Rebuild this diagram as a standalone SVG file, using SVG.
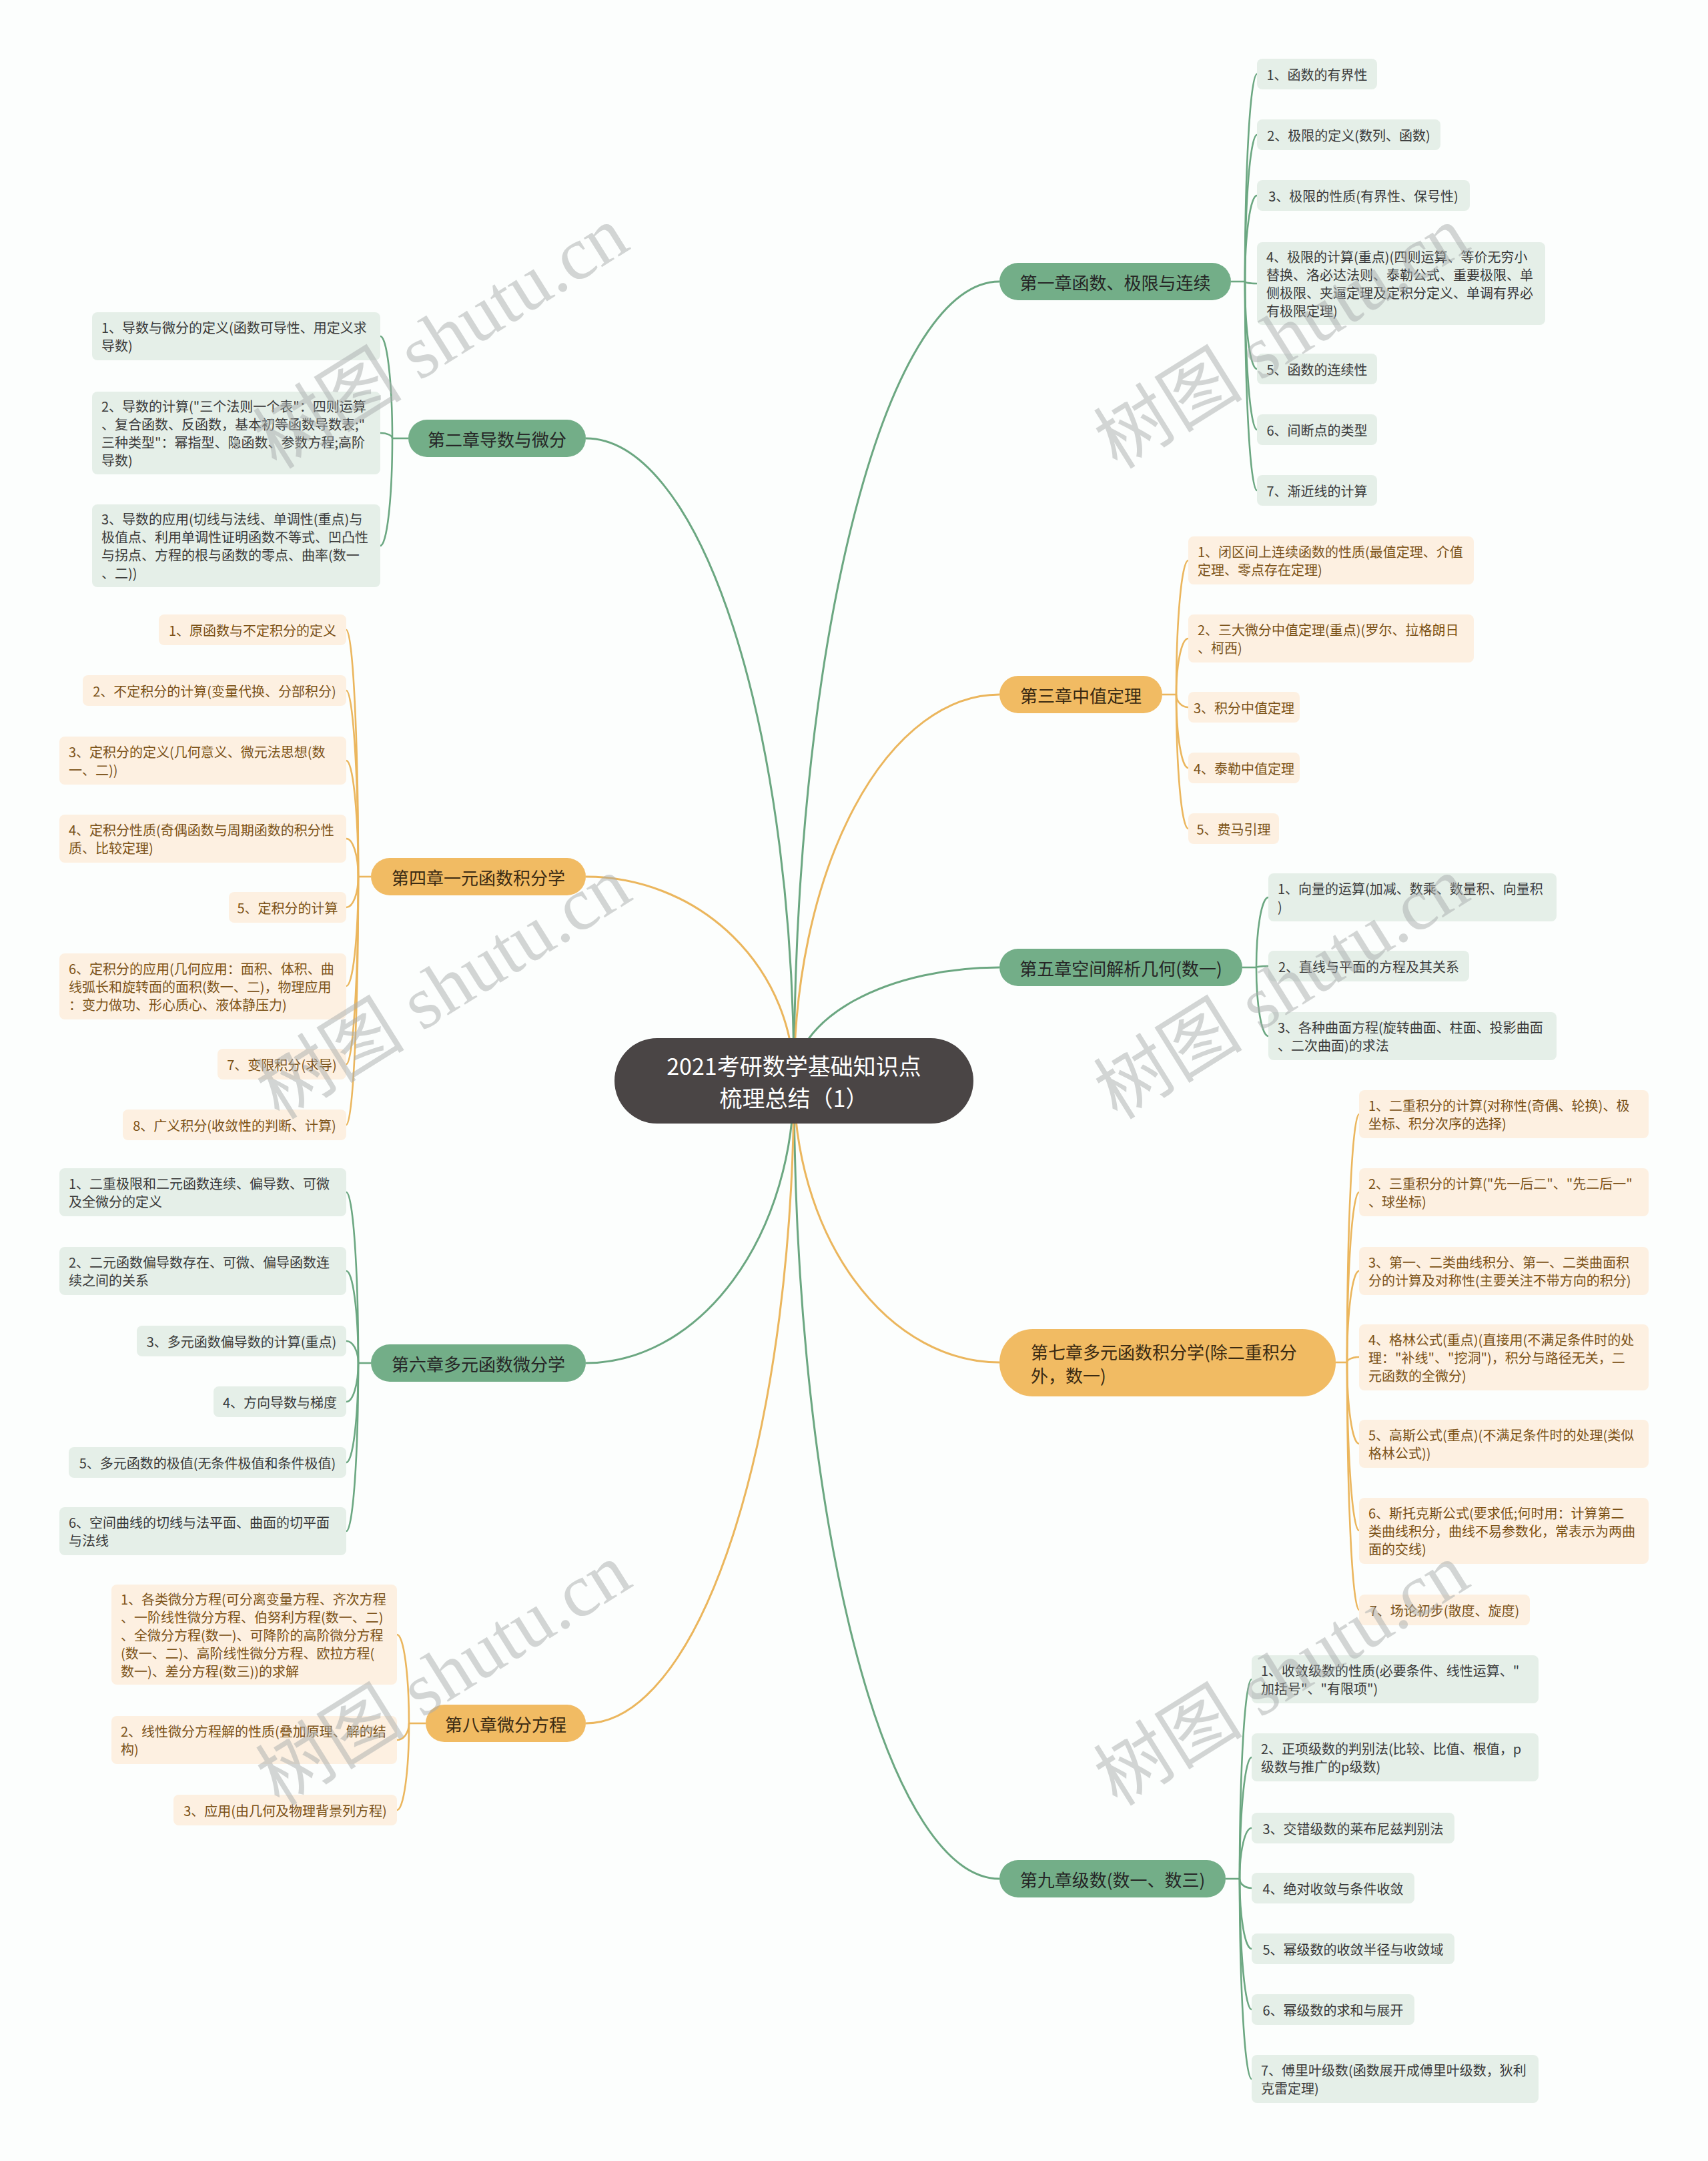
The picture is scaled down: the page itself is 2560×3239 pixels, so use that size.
<svg xmlns="http://www.w3.org/2000/svg" width="2560" height="3239" viewBox="0 0 2560 3239">
<style>
.bg{fill:#fcfefd}
.lg{fill:#e5efe8}
.lo{fill:#fdf0e1}
.cg{fill:#73ae88}
.co{fill:#f1bb63}
text{font-family:"Noto Sans CJK SC","Liberation Sans",sans-serif;dominant-baseline:central}
.t{font-size:20px}
.tg{fill:#3a3a3a}
.to{fill:#7b5217}
.m{text-anchor:middle}
.tc{font-size:26px;fill:#262626}
.tco{font-size:26px;fill:#3a2a12}
.root{font-size:34px;fill:#ffffff;text-anchor:middle}
.eg{fill:none;stroke:#6ba781;stroke-width:2.6}
.eo{fill:none;stroke:#ebb65d;stroke-width:2.6}
.mg{fill:none;stroke:#6ba781;stroke-width:3}
.mo{fill:none;stroke:#ebb65d;stroke-width:3}
.wm{font-family:"Liberation Serif","Noto Sans CJK SC",serif;font-size:112px;fill:#a9adad;opacity:0.5;text-anchor:middle}
</style>
<rect class="bg" x="0" y="0" width="2560" height="3239"/>
<g id="connectors">
<path class="mg" d="M1190,1620 A308,1198 0 0 1 1498,422"/>
<path class="mo" d="M1190,1620 A308,579 0 0 1 1498,1041"/>
<path class="mg" d="M1190,1620 A308,170 0 0 1 1498,1450"/>
<path class="mo" d="M1190,1620 A308,422 0 0 0 1498,2042"/>
<path class="mg" d="M1190,1620 A308,1196 0 0 0 1498,2816"/>
<path class="mg" d="M1190,1620 A312,963 0 0 0 878,657"/>
<path class="mo" d="M1190,1620 A312,306 0 0 0 878,1314"/>
<path class="mg" d="M1190,1620 A312,423 0 0 1 878,2043"/>
<path class="mo" d="M1190,1620 A312,963 0 0 1 878,2583"/>
<path class="eg" d="M1845,422 L1866,422"/>
<path class="eg" d="M1866,422 A18,311 0 0 1 1884,111"/>
<path class="eg" d="M1866,422 A18,220 0 0 1 1884,202"/>
<path class="eg" d="M1866,422 A18,129 0 0 1 1884,293"/>
<path class="eg" d="M1866,422 A18,3 0 0 0 1884,425"/>
<path class="eg" d="M1866,422 A18,131 0 0 0 1884,553"/>
<path class="eg" d="M1866,422 A18,222 0 0 0 1884,644"/>
<path class="eg" d="M1866,422 A18,313 0 0 0 1884,735"/>
<path class="eo" d="M1742,1041 L1763,1041"/>
<path class="eo" d="M1763,1041 A18,201 0 0 1 1781,840"/>
<path class="eo" d="M1763,1041 A18,84 0 0 1 1781,957"/>
<path class="eo" d="M1763,1041 A18,19 0 0 0 1781,1060"/>
<path class="eo" d="M1763,1041 A18,110 0 0 0 1781,1151"/>
<path class="eo" d="M1763,1041 A18,201 0 0 0 1781,1242"/>
<path class="eg" d="M1862,1450 L1883,1450"/>
<path class="eg" d="M1883,1450 A18,105 0 0 1 1901,1345"/>
<path class="eg" d="M1883,1450 A18,2 0 0 1 1901,1448"/>
<path class="eg" d="M1883,1450 A18,103 0 0 0 1901,1553"/>
<path class="eo" d="M2002,2042 L2019,2042"/>
<path class="eo" d="M2019,2042 A18,372 0 0 1 2037,1670"/>
<path class="eo" d="M2019,2042 A18,255 0 0 1 2037,1787"/>
<path class="eo" d="M2019,2042 A18,137 0 0 1 2037,1905"/>
<path class="eo" d="M2019,2042 A18,8 0 0 1 2037,2034"/>
<path class="eo" d="M2019,2042 A18,122 0 0 0 2037,2164"/>
<path class="eo" d="M2019,2042 A18,252 0 0 0 2037,2294"/>
<path class="eo" d="M2019,2042 A18,371 0 0 0 2037,2413"/>
<path class="eg" d="M1837,2816 L1858,2816"/>
<path class="eg" d="M1858,2816 A18,299 0 0 1 1876,2517"/>
<path class="eg" d="M1858,2816 A18,182 0 0 1 1876,2634"/>
<path class="eg" d="M1858,2816 A18,76 0 0 1 1876,2740"/>
<path class="eg" d="M1858,2816 A18,14 0 0 0 1876,2830"/>
<path class="eg" d="M1858,2816 A18,105 0 0 0 1876,2921"/>
<path class="eg" d="M1858,2816 A18,196 0 0 0 1876,3012"/>
<path class="eg" d="M1858,2816 A18,300 0 0 0 1876,3116"/>
<path class="eg" d="M612,657 L588,657"/>
<path class="eg" d="M588,657 A18,153 0 0 0 570,504"/>
<path class="eg" d="M588,657 A18,8 0 0 0 570,649"/>
<path class="eg" d="M588,657 A18,161 0 0 1 570,818"/>
<path class="eo" d="M556,1314 L537,1314"/>
<path class="eo" d="M537,1314 A18,370 0 0 0 519,944"/>
<path class="eo" d="M537,1314 A18,279 0 0 0 519,1035"/>
<path class="eo" d="M537,1314 A18,174 0 0 0 519,1140"/>
<path class="eo" d="M537,1314 A18,57 0 0 0 519,1257"/>
<path class="eo" d="M537,1314 A18,46 0 0 1 519,1360"/>
<path class="eo" d="M537,1314 A18,164 0 0 1 519,1478"/>
<path class="eo" d="M537,1314 A18,281 0 0 1 519,1595"/>
<path class="eo" d="M537,1314 A18,372 0 0 1 519,1686"/>
<path class="eg" d="M556,2043 L537,2043"/>
<path class="eg" d="M537,2043 A18,256 0 0 0 519,1787"/>
<path class="eg" d="M537,2043 A18,138 0 0 0 519,1905"/>
<path class="eg" d="M537,2043 A18,33 0 0 0 519,2010"/>
<path class="eg" d="M537,2043 A18,58 0 0 1 519,2101"/>
<path class="eg" d="M537,2043 A18,149 0 0 1 519,2192"/>
<path class="eg" d="M537,2043 A18,252 0 0 1 519,2295"/>
<path class="eo" d="M638,2583 L613,2583"/>
<path class="eo" d="M613,2583 A18,133 0 0 0 595,2450"/>
<path class="eo" d="M613,2583 A18,25 0 0 1 595,2608"/>
<path class="eo" d="M613,2583 A18,130 0 0 1 595,2713"/>
</g>
<g id="root">
<rect x="921" y="1556" width="538" height="128" rx="64" fill="#4a4545"/>
<text class="root" x="1190" y="1596">2021考研数学基础知识点</text>
<text class="root" x="1190" y="1644">梳理总结（1）</text>
</g>
<g id="ch1">
<rect class="cg" x="1498" y="394" width="347" height="56" rx="28"/>
<text class="tc m" x="1671.5" y="422">第一章函数、极限与连续</text>
</g>
<g id="ch1-1"><rect class="lg" x="1884" y="88" width="180" height="46" rx="8"/><text class="t tg m" x="1974" y="111">1、函数的有界性</text></g>
<g id="ch1-2"><rect class="lg" x="1884" y="179" width="275" height="46" rx="8"/><text class="t tg m" x="2021.5" y="202">2、极限的定义(数列、函数)</text></g>
<g id="ch1-3"><rect class="lg" x="1884" y="270" width="319" height="46" rx="8"/><text class="t tg m" x="2043.5" y="293">3、极限的性质(有界性、保号性)</text></g>
<g id="ch1-4"><rect class="lg" x="1884" y="363" width="432" height="124" rx="8"/>
<text class="t tg" x="1898" y="384.5">4、极限的计算(重点)(四则运算、等价无穷小</text>
<text class="t tg" x="1898" y="411.5">替换、洛必达法则、泰勒公式、重要极限、单</text>
<text class="t tg" x="1898" y="438.5">侧极限、夹逼定理及定积分定义、单调有界必</text>
<text class="t tg" x="1898" y="465.5">有极限定理)</text></g>
<g id="ch1-5"><rect class="lg" x="1884" y="530" width="180" height="46" rx="8"/><text class="t tg m" x="1974" y="553">5、函数的连续性</text></g>
<g id="ch1-6"><rect class="lg" x="1884" y="621" width="180" height="46" rx="8"/><text class="t tg m" x="1974" y="644">6、间断点的类型</text></g>
<g id="ch1-7"><rect class="lg" x="1884" y="712" width="180" height="46" rx="8"/><text class="t tg m" x="1974" y="735">7、渐近线的计算</text></g>
<g id="ch3">
<rect class="co" x="1498" y="1013" width="244" height="56" rx="28"/>
<text class="tco m" x="1620" y="1041">第三章中值定理</text>
</g>
<g id="ch3-1"><rect class="lo" x="1781" y="804" width="428" height="72" rx="8"/>
<text class="t to" x="1795" y="826.5">1、闭区间上连续函数的性质(最值定理、介值</text>
<text class="t to" x="1795" y="853.5">定理、零点存在定理)</text></g>
<g id="ch3-2"><rect class="lo" x="1781" y="921" width="428" height="72" rx="8"/>
<text class="t to" x="1795" y="943.5">2、三大微分中值定理(重点)(罗尔、拉格朗日</text>
<text class="t to" x="1795" y="970.5">、柯西)</text></g>
<g id="ch3-3"><rect class="lo" x="1781" y="1037" width="167" height="46" rx="8"/><text class="t to m" x="1864.5" y="1060">3、积分中值定理</text></g>
<g id="ch3-4"><rect class="lo" x="1781" y="1128" width="167" height="46" rx="8"/><text class="t to m" x="1864.5" y="1151">4、泰勒中值定理</text></g>
<g id="ch3-5"><rect class="lo" x="1781" y="1219" width="136" height="46" rx="8"/><text class="t to m" x="1849" y="1242">5、费马引理</text></g>
<g id="ch5">
<rect class="cg" x="1498" y="1422" width="364" height="56" rx="28"/>
<text class="tc m" x="1680" y="1450">第五章空间解析几何(数一)</text>
</g>
<g id="ch5-1"><rect class="lg" x="1901" y="1309" width="432" height="72" rx="8"/>
<text class="t tg" x="1915" y="1331.5">1、向量的运算(加减、数乘、数量积、向量积</text>
<text class="t tg" x="1915" y="1358.5">)</text></g>
<g id="ch5-2"><rect class="lg" x="1901" y="1425" width="301" height="46" rx="8"/><text class="t tg m" x="2051.5" y="1448">2、直线与平面的方程及其关系</text></g>
<g id="ch5-3"><rect class="lg" x="1901" y="1517" width="432" height="72" rx="8"/>
<text class="t tg" x="1915" y="1539.5">3、各种曲面方程(旋转曲面、柱面、投影曲面</text>
<text class="t tg" x="1915" y="1566.5">、二次曲面)的求法</text></g>
<g id="ch7">
<rect class="co" x="1498" y="1992" width="504" height="101" rx="50"/>
<text class="tco" x="1545" y="2025">第七章多元函数积分学(除二重积分</text>
<text class="tco" x="1545" y="2060">外，数一)</text>
</g>
<g id="ch7-1"><rect class="lo" x="2037" y="1634" width="434" height="72" rx="8"/>
<text class="t to" x="2051" y="1656.5">1、二重积分的计算(对称性(奇偶、轮换)、极</text>
<text class="t to" x="2051" y="1683.5">坐标、积分次序的选择)</text></g>
<g id="ch7-2"><rect class="lo" x="2037" y="1751" width="434" height="72" rx="8"/>
<text class="t to" x="2051" y="1773.5">2、三重积分的计算("先一后二"、"先二后一"</text>
<text class="t to" x="2051" y="1800.5">、球坐标)</text></g>
<g id="ch7-3"><rect class="lo" x="2037" y="1869" width="434" height="72" rx="8"/>
<text class="t to" x="2051" y="1891.5">3、第一、二类曲线积分、第一、二类曲面积</text>
<text class="t to" x="2051" y="1918.5">分的计算及对称性(主要关注不带方向的积分)</text></g>
<g id="ch7-4"><rect class="lo" x="2037" y="1985" width="434" height="99" rx="8"/>
<text class="t to" x="2051" y="2007">4、格林公式(重点)(直接用(不满足条件时的处</text>
<text class="t to" x="2051" y="2034">理："补线"、"挖洞")，积分与路径无关，二</text>
<text class="t to" x="2051" y="2061">元函数的全微分)</text></g>
<g id="ch7-5"><rect class="lo" x="2037" y="2128" width="434" height="72" rx="8"/>
<text class="t to" x="2051" y="2150.5">5、高斯公式(重点)(不满足条件时的处理(类似</text>
<text class="t to" x="2051" y="2177.5">格林公式))</text></g>
<g id="ch7-6"><rect class="lo" x="2037" y="2245" width="434" height="99" rx="8"/>
<text class="t to" x="2051" y="2267">6、斯托克斯公式(要求低;何时用：计算第二</text>
<text class="t to" x="2051" y="2294">类曲线积分，曲线不易参数化，常表示为两曲</text>
<text class="t to" x="2051" y="2321">面的交线)</text></g>
<g id="ch7-7"><rect class="lo" x="2037" y="2390" width="256" height="46" rx="8"/><text class="t to m" x="2165" y="2413">7、场论初步(散度、旋度)</text></g>
<g id="ch9">
<rect class="cg" x="1498" y="2788" width="339" height="56" rx="28"/>
<text class="tc m" x="1667.5" y="2816">第九章级数(数一、数三)</text>
</g>
<g id="ch9-1"><rect class="lg" x="1876" y="2481" width="430" height="72" rx="8"/>
<text class="t tg" x="1890" y="2503.5">1、收敛级数的性质(必要条件、线性运算、"</text>
<text class="t tg" x="1890" y="2530.5">加括号"、"有限项")</text></g>
<g id="ch9-2"><rect class="lg" x="1876" y="2598" width="430" height="72" rx="8"/>
<text class="t tg" x="1890" y="2620.5">2、正项级数的判别法(比较、比值、根值，p</text>
<text class="t tg" x="1890" y="2647.5">级数与推广的p级数)</text></g>
<g id="ch9-3"><rect class="lg" x="1876" y="2717" width="304" height="46" rx="8"/><text class="t tg m" x="2028" y="2740">3、交错级数的莱布尼兹判别法</text></g>
<g id="ch9-4"><rect class="lg" x="1876" y="2807" width="244" height="46" rx="8"/><text class="t tg m" x="1998" y="2830">4、绝对收敛与条件收敛</text></g>
<g id="ch9-5"><rect class="lg" x="1876" y="2898" width="304" height="46" rx="8"/><text class="t tg m" x="2028" y="2921">5、幂级数的收敛半径与收敛域</text></g>
<g id="ch9-6"><rect class="lg" x="1876" y="2989" width="244" height="46" rx="8"/><text class="t tg m" x="1998" y="3012">6、幂级数的求和与展开</text></g>
<g id="ch9-7"><rect class="lg" x="1876" y="3080" width="430" height="72" rx="8"/>
<text class="t tg" x="1890" y="3102.5">7、傅里叶级数(函数展开成傅里叶级数，狄利</text>
<text class="t tg" x="1890" y="3129.5">克雷定理)</text></g>
<g id="ch2">
<rect class="cg" x="612" y="629" width="266" height="56" rx="28"/>
<text class="tc m" x="745" y="657">第二章导数与微分</text>
</g>
<g id="ch2-1"><rect class="lg" x="138" y="468" width="432" height="72" rx="8"/>
<text class="t tg" x="152" y="490.5">1、导数与微分的定义(函数可导性、用定义求</text>
<text class="t tg" x="152" y="517.5">导数)</text></g>
<g id="ch2-2"><rect class="lg" x="138" y="587" width="432" height="124" rx="8"/>
<text class="t tg" x="152" y="608.5">2、导数的计算("三个法则一个表"：四则运算</text>
<text class="t tg" x="152" y="635.5">、复合函数、反函数，基本初等函数导数表;"</text>
<text class="t tg" x="152" y="662.5">三种类型"：幂指型、隐函数、参数方程;高阶</text>
<text class="t tg" x="152" y="689.5">导数)</text></g>
<g id="ch2-3"><rect class="lg" x="138" y="756" width="432" height="124" rx="8"/>
<text class="t tg" x="152" y="777.5">3、导数的应用(切线与法线、单调性(重点)与</text>
<text class="t tg" x="152" y="804.5">极值点、利用单调性证明函数不等式、凹凸性</text>
<text class="t tg" x="152" y="831.5">与拐点、方程的根与函数的零点、曲率(数一</text>
<text class="t tg" x="152" y="858.5">、二))</text></g>
<g id="ch4">
<rect class="co" x="556" y="1286" width="322" height="56" rx="28"/>
<text class="tco m" x="717" y="1314">第四章一元函数积分学</text>
</g>
<g id="ch4-1"><rect class="lo" x="238" y="921" width="281" height="46" rx="8"/><text class="t to m" x="378.5" y="944">1、原函数与不定积分的定义</text></g>
<g id="ch4-2"><rect class="lo" x="124" y="1012" width="395" height="46" rx="8"/><text class="t to m" x="321.5" y="1035">2、不定积分的计算(变量代换、分部积分)</text></g>
<g id="ch4-3"><rect class="lo" x="89" y="1104" width="430" height="72" rx="8"/>
<text class="t to" x="103" y="1126.5">3、定积分的定义(几何意义、微元法思想(数</text>
<text class="t to" x="103" y="1153.5">一、二))</text></g>
<g id="ch4-4"><rect class="lo" x="89" y="1221" width="430" height="72" rx="8"/>
<text class="t to" x="103" y="1243.5">4、定积分性质(奇偶函数与周期函数的积分性</text>
<text class="t to" x="103" y="1270.5">质、比较定理)</text></g>
<g id="ch4-5"><rect class="lo" x="343" y="1337" width="176" height="46" rx="8"/><text class="t to m" x="431" y="1360">5、定积分的计算</text></g>
<g id="ch4-6"><rect class="lo" x="89" y="1429" width="430" height="99" rx="8"/>
<text class="t to" x="103" y="1451">6、定积分的应用(几何应用：面积、体积、曲</text>
<text class="t to" x="103" y="1478">线弧长和旋转面的面积(数一、二)，物理应用</text>
<text class="t to" x="103" y="1505">：变力做功、形心质心、液体静压力)</text></g>
<g id="ch4-7"><rect class="lo" x="326" y="1572" width="193" height="46" rx="8"/><text class="t to m" x="422.5" y="1595">7、变限积分(求导)</text></g>
<g id="ch4-8"><rect class="lo" x="184" y="1663" width="335" height="46" rx="8"/><text class="t to m" x="351.5" y="1686">8、广义积分(收敛性的判断、计算)</text></g>
<g id="ch6">
<rect class="cg" x="556" y="2015" width="322" height="56" rx="28"/>
<text class="tc m" x="717" y="2043">第六章多元函数微分学</text>
</g>
<g id="ch6-1"><rect class="lg" x="89" y="1751" width="430" height="72" rx="8"/>
<text class="t tg" x="103" y="1773.5">1、二重极限和二元函数连续、偏导数、可微</text>
<text class="t tg" x="103" y="1800.5">及全微分的定义</text></g>
<g id="ch6-2"><rect class="lg" x="89" y="1869" width="430" height="72" rx="8"/>
<text class="t tg" x="103" y="1891.5">2、二元函数偏导数存在、可微、偏导函数连</text>
<text class="t tg" x="103" y="1918.5">续之间的关系</text></g>
<g id="ch6-3"><rect class="lg" x="205" y="1987" width="314" height="46" rx="8"/><text class="t tg m" x="362" y="2010">3、多元函数偏导数的计算(重点)</text></g>
<g id="ch6-4"><rect class="lg" x="320" y="2078" width="199" height="46" rx="8"/><text class="t tg m" x="419.5" y="2101">4、方向导数与梯度</text></g>
<g id="ch6-5"><rect class="lg" x="103" y="2169" width="416" height="46" rx="8"/><text class="t tg m" x="311" y="2192">5、多元函数的极值(无条件极值和条件极值)</text></g>
<g id="ch6-6"><rect class="lg" x="89" y="2259" width="430" height="72" rx="8"/>
<text class="t tg" x="103" y="2281.5">6、空间曲线的切线与法平面、曲面的切平面</text>
<text class="t tg" x="103" y="2308.5">与法线</text></g>
<g id="ch8">
<rect class="co" x="638" y="2555" width="240" height="56" rx="28"/>
<text class="tco m" x="758" y="2583">第八章微分方程</text>
</g>
<g id="ch8-1"><rect class="lo" x="167" y="2375" width="428" height="150" rx="8"/>
<text class="t to" x="181" y="2396">1、各类微分方程(可分离变量方程、齐次方程</text>
<text class="t to" x="181" y="2423">、一阶线性微分方程、伯努利方程(数一、二)</text>
<text class="t to" x="181" y="2450">、全微分方程(数一)、可降阶的高阶微分方程</text>
<text class="t to" x="181" y="2477">(数一、二)、高阶线性微分方程、欧拉方程(</text>
<text class="t to" x="181" y="2504">数一)、差分方程(数三))的求解</text></g>
<g id="ch8-2"><rect class="lo" x="167" y="2572" width="428" height="72" rx="8"/>
<text class="t to" x="181" y="2594.5">2、线性微分方程解的性质(叠加原理、解的结</text>
<text class="t to" x="181" y="2621.5">构)</text></g>
<g id="ch8-3"><rect class="lo" x="260" y="2690" width="335" height="46" rx="8"/><text class="t to m" x="427.5" y="2713">3、应用(由几何及物理背景列方程)</text></g>
<g id="watermark">
<text class="wm" x="661" y="506" transform="rotate(-32 661 506)">树图 shutu.cn</text>
<text class="wm" x="1921" y="506" transform="rotate(-32 1921 506)">树图 shutu.cn</text>
<text class="wm" x="665" y="1481" transform="rotate(-32 665 1481)">树图 shutu.cn</text>
<text class="wm" x="1921" y="1481" transform="rotate(-32 1921 1481)">树图 shutu.cn</text>
<text class="wm" x="665" y="2510" transform="rotate(-32 665 2510)">树图 shutu.cn</text>
<text class="wm" x="1921" y="2510" transform="rotate(-32 1921 2510)">树图 shutu.cn</text>
</g>
</svg>
